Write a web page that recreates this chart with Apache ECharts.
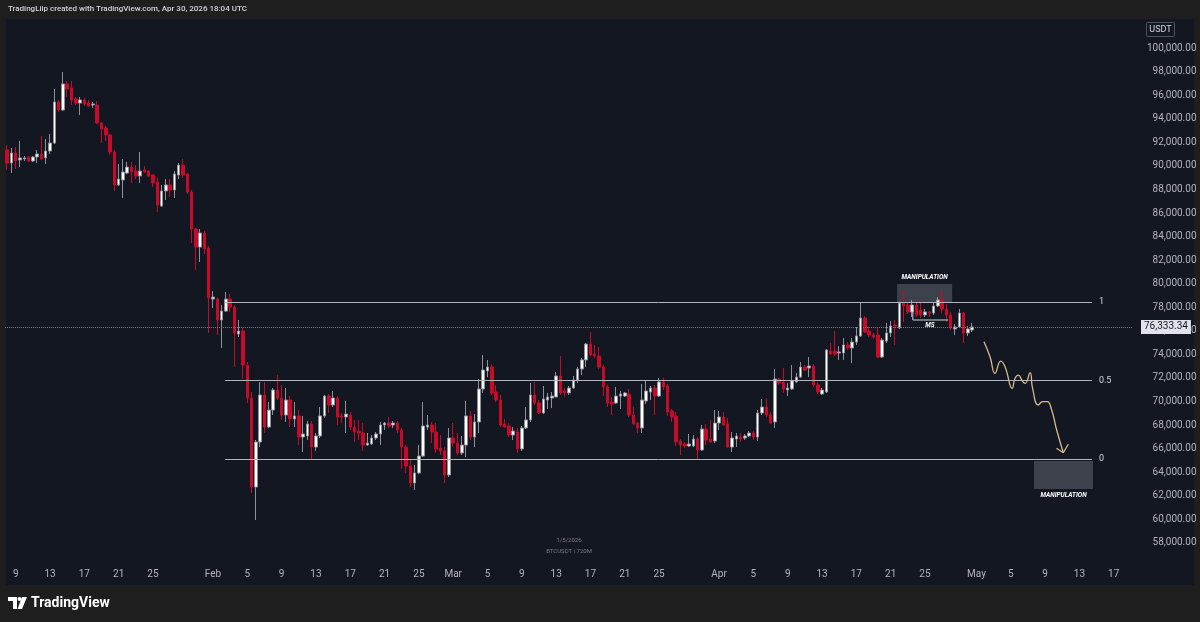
<!DOCTYPE html>
<html><head><meta charset="utf-8">
<script src="https://cdn.jsdelivr.net/npm/echarts@6/dist/echarts.min.js"></script>
<style>html,body{margin:0;padding:0;background:#1e1e1e;}#c{width:1200px;height:622px;}</style>
</head><body><div id="c"></div>
<script>
// ---- data ----
const startUTC = Date.UTC(2026, 0, 8, 0, 0);   // first 12h candle
const slotCount = 263;                           // visible 12h slots incl. future space
// [open, close, low, high]
const candles = [
[91350,90240,89650,91770],[90240,91090,89390,91520],[91090,90410,89730,91600],[90500,90670,89900,92110],
[90580,90670,90410,90840],[90750,90410,90330,90840],[90410,90750,90330,90840],[90750,91010,90240,91350],
[91010,90580,90500,92530],[90670,91260,90160,92280],[91260,91940,91010,92700],[91940,95420,91850,96520],
[95420,94740,94570,95590],[94740,96950,94650,97960],[96950,96520,95840,97200],[96610,95590,95160,97200],
[95670,95330,95160,95840],[95330,95590,94320,95840],[95590,95250,95080,95760],[95330,95080,94990,95590],
[95160,95250,94910,95420],[95160,93640,93550,95500],[93640,93130,91940,93720],[93210,92620,92110,93380],
[92620,91180,90920,92700],[91180,88380,87870,91350],[88380,88880,88290,90160],[88800,89480,87270,90580],
[89390,89900,89310,90330],[89900,89480,88550,90330],[89560,89140,88880,90070],[89140,89560,88550,91180],
[89650,89480,89390,89990],[89560,89140,89050,89650],[89220,88550,88210,89310],[88630,86680,86080,88970],
[86590,87870,86510,88380],[87870,88380,87100,88880],[88380,87950,87360,88880],[87950,89310,87270,89560],
[89220,90070,88880,90240],[90070,89220,88970,90580],[89310,87780,87610,89390],[87780,84640,83450,87950],
[84640,83110,81160,84730],[83110,84300,81840,84640],[84300,82950,82520,84470],[83030,78790,75820,83200],
[78700,78870,77940,79380],[78700,76920,75650,78870],[76920,77680,74550,78190],[77680,78700,77600,79300],
[78700,78020,77600,79130],[78020,75820,72930,78190],[75730,75990,75480,76920],[75990,73100,71910,76240],
[73100,70300,69880,73360],[70300,62750,62240,70810],[62750,66570,59950,66740],[66570,70560,66140,71660],
[70560,67840,67330,71660],[67840,69280,67760,69960],[69280,70980,68860,71150],[70980,70300,70130,72250],
[70300,68860,68440,71410],[68860,70130,68270,71150],[70130,68520,67840,70470],[68520,68780,67840,69960],
[68780,66990,66310,69280],[66990,67250,65720,68780],[67080,68100,66740,68350],[68100,66140,65130,68350],
[66140,67080,65810,67330],[67080,68780,66910,69540],[68780,70470,68610,70560],[70470,69710,69030,70640],
[69710,70300,69540,70900],[70300,68690,68010,70470],[68780,68690,68180,69030],[68690,68940,67330,70050],
[68860,67840,67590,69110],[67840,67420,66570,68440],[67500,67330,66740,68440],[67330,66310,65810,68180],
[66310,66480,66230,67330],[66400,66910,66310,67160],[66910,67250,66740,67420],[67250,68010,66310,68270],
[68010,68180,67590,68270],[68180,67930,67760,68690],[68010,68180,67760,68350],[68180,67590,67330,68350],
[67590,66140,64280,67760],[66140,64530,63940,66310],[64530,63090,62750,65040],[63090,63940,62500,64620],
[63940,65380,63850,66310],[65380,67930,65300,69960],[67840,68010,67590,68860],[68010,67420,66480,68270],
[67420,65980,65640,68180],[66060,65810,65470,67160],[65810,63770,63090,66140],[63770,66910,63600,67760],
[66910,66480,66140,68180],[66480,65640,65470,67330],[65640,66310,65470,67080],[66310,68780,65300,70050],
[68780,66990,66740,69200],[66990,68270,66140,68940],[68270,71070,67330,71910],[71070,72680,70730,73950],
[72590,72930,72080,73530],[72930,70730,70560,73190],[70810,70130,69960,71410],[70130,68010,67840,70560],
[68100,67840,67760,68520],[67930,67160,66990,68180],[67160,67500,66740,67840],[67420,65980,65640,67760],
[65980,67760,65810,67930],[67760,68440,67670,69540],[68440,70560,68270,71580],[70560,69880,69710,71660],
[69880,69030,68940,70130],[69030,70220,68940,71320],[70130,70390,69370,70730],[70300,70470,69450,70810],
[70390,72170,70390,72510],[72170,70730,70560,73870],[70900,70730,70390,71150],[70730,71150,70560,71320],
[71150,71830,71070,72170],[71830,72760,71580,72930],[72760,73530,72250,73700],[73530,74880,72930,74970],
[74880,73950,73870,75900],[74040,73870,73700,74800],[73870,72930,72760,74630],[72930,71240,70470,73100],
[71240,69880,69540,71410],[69960,69790,68860,70390],[69880,70470,69790,71240],[70470,70640,69370,70900],
[70470,70730,70390,70810],[70640,68860,68690,71070],[68860,68100,68010,69540],[68180,67760,67330,68270],
[67760,70130,67330,71490],[70050,70900,69790,71750],[70810,71150,70130,71320],[71150,70470,68860,71410],
[70470,71660,70390,72000],[71660,71240,70980,72000],[71320,69110,68780,71490],[69200,68690,68270,69370],
[68780,66570,66230,69110],[66650,66310,65470,66820],[66400,66230,66060,66570],[66230,66400,66140,67250],
[66230,66820,66140,67160],[66820,65890,65130,66990],[65890,67670,65810,68010],[67670,66740,66310,68100],
[66820,66570,66480,68440],[66650,68180,66480,69280],[68180,68690,67590,69200],[68690,68010,67930,69110],
[68100,66140,66060,68610],[66140,66910,65720,67420],[66820,67080,66140,67330],[66990,66820,66570,67330],
[66910,67080,66740,67250],[67080,67330,66990,67500],[67330,66990,66740,67500],[66990,69030,66650,69280],
[69030,69540,68860,70220],[69540,68860,68690,70300],[68860,68180,68100,69110],[68270,71910,67760,72760],
[71910,71580,71410,72000],[71660,71070,70730,72850],[70980,71150,70470,71580],[71070,71750,70980,73100],
[71660,72080,71580,72420],[72080,72930,72000,73360],[72930,72680,72590,73100],[72850,73020,72080,73780],
[73020,71410,71240,73190],[71410,70810,70640,71580],[70640,70980,70560,71150],[70810,74380,70730,74460],
[74290,74040,73950,74970],[74290,74040,73870,75990],[74120,74210,73530,74710],[74120,74800,73530,75390],
[74800,74550,74380,75050],[74550,75050,73270,75390],[75050,75560,74800,76330],[75560,77090,75480,78360],
[77090,75900,75820,77260],[75990,75650,75480,76330],[75650,75480,75310,75820],[75650,73780,73700,76330],
[73780,75220,73700,75390],[75140,75820,74970,76670],[75820,76410,75480,76840],[76500,76410,74800,76920],
[76240,78360,76160,78450],[78360,78110,76750,79470],[78190,77600,77430,78360],[77600,78190,77180,78620],
[78190,77350,77180,78450],[77770,77350,77090,78450],[77350,77600,77180,77850],[77600,77510,77180,77680],
[77510,78110,77350,78360],[78110,78620,78020,78870],[78700,77850,77510,79470],[77850,77350,76750,78280],
[77350,76240,76070,77600],[76160,76330,75650,76580],[76330,77510,76240,77850],[77510,75820,74970,77600],
[75820,76160,75560,76410],[76070,76333.34,75900,76670]
];
const lastPrice = 76333.34;
const tickLabels = [
['2026-01-09','9'],['2026-01-13','13'],['2026-01-17','17'],['2026-01-21','21'],['2026-01-25','25'],
['2026-02-01','Feb'],['2026-02-05','5'],['2026-02-09','9'],['2026-02-13','13'],['2026-02-17','17'],['2026-02-21','21'],['2026-02-25','25'],
['2026-03-01','Mar'],['2026-03-05','5'],['2026-03-09','9'],['2026-03-13','13'],['2026-03-17','17'],['2026-03-21','21'],['2026-03-25','25'],
['2026-04-01','Apr'],['2026-04-05','5'],['2026-04-09','9'],['2026-04-13','13'],['2026-04-17','17'],['2026-04-21','21'],['2026-04-25','25'],
['2026-05-01','May'],['2026-05-05','5'],['2026-05-09','9'],['2026-05-13','13'],['2026-05-17','17']
];
// Fibonacci levels (price) and their drawn time span
const fibLevels = [[78450,'1'],[71790,'0.5'],[65130,'0']];
const fibSpan = ['2026-02-02T10:00:00Z','2026-05-14T11:00:00Z'];
// Manipulation zones [startTime, endTime, topPrice, bottomPrice]
const zoneTop = ['2026-04-21T18:00:00Z','2026-04-28T04:00:00Z',79975,78360];
const zoneBottom = ['2026-05-07T17:00:00Z','2026-05-14T14:00:00Z',64960,62580];
// MS bracket (time, price)
const msBracket = [['2026-04-23T14:00:00Z',78190],['2026-04-23T14:00:00Z',76920],['2026-04-27T17:00:00Z',76920]];
const msLabel = ['2026-04-25T14:00:00Z',76450];
// projected path (time, price)
const projPath = [
['2026-05-01T21:00:00Z',75080],['2026-05-02T14:00:00Z',73810],['2026-05-03T04:00:00Z',72400],
['2026-05-03T20:00:00Z',73440],['2026-05-04T08:00:00Z',72960],['2026-05-05T04:00:00Z',71120],
['2026-05-05T12:00:00Z',71980],['2026-05-05T21:00:00Z',72250],['2026-05-06T09:30:00Z',71690],
['2026-05-06T16:00:00Z',71550],['2026-05-07T06:00:00Z',72450],['2026-05-07T13:00:00Z',71120],
['2026-05-08T05:00:00Z',69710],['2026-05-08T17:30:00Z',69990],['2026-05-09T06:00:00Z',69990],
['2026-05-09T18:30:00Z',69280],['2026-05-10T08:30:00Z',67590],['2026-05-11T03:00:00Z',65660]
];
const projHead = [['2026-05-10T08:00:00Z',66040],['2026-05-11T03:00:00Z',65660],['2026-05-11T17:00:00Z',66380]];

// ---- build ----
const H12 = 12*3600*1000;
const pad = n => (n<10?'0':'')+n;
const categories = [];
for (let i=0;i<slotCount;i++){
  const d = new Date(startUTC + i*H12);
  categories.push(d.getUTCFullYear()+'-'+pad(d.getUTCMonth()+1)+'-'+pad(d.getUTCDate())+' '+pad(d.getUTCHours())+':00');
}
const tickMap = {};
tickLabels.forEach(t => tickMap[t[0]+' 00:00'] = t[1]);
const fmtPrice = v => v.toLocaleString('en-US',{minimumFractionDigits:2,maximumFractionDigits:2});
const FONT = 'Roboto, "Liberation Sans", sans-serif';
const txt = '#b2b5be';

const chart = echarts.init(document.getElementById('c'));
const option = {
  backgroundColor: '#1e1e1e',
  animation: false,
  grid: {left: 5, top: 24.43, width: 1128, height: 542.14},
  xAxis: [{
    type: 'category', data: categories, boundaryGap: true,
    axisLine: {show: false}, axisTick: {show: false}, splitLine: {show: false},
    axisLabel: {
      interval: (idx, val) => tickMap[val] !== undefined,
      formatter: val => tickMap[val] || '',
      color: txt, fontSize: 10, fontFamily: FONT, margin: 2.5
    }
  },{
    type: 'time', show: false,
    min: startUTC - H12/2, max: startUTC + (slotCount-0.5)*H12
  }],
  yAxis: {
    type: 'value', position: 'right', min: 56000, max: 102000, interval: 2000,
    splitLine: {show: false}, axisTick: {show: false},
    axisLine: {show: false},
    axisLabel: {
      formatter: fmtPrice, color: txt, fontSize: 10, fontFamily: FONT,
      align: 'right', margin: 63.5, showMinLabel: false, showMaxLabel: false
    }
  },
  graphic: [
    {type:'rect', z:-10, shape:{x:6,y:19,width:1188,height:566}, style:{fill:'#131722'}},
    {type:'text', left: 8, top: 5, style:{text:'TradingLiip created with TradingView.com, Apr 30, 2026 18:04 UTC', fill:'#d1d4dc', font:'500 8px '+FONT}},
    {type:'rect', shape:{x:1146.5,y:22.5,width:28,height:14,r:1}, style:{fill:'none', stroke:'#50535e', lineWidth:1}},
    {type:'text', x:1160.5, y:29.5, style:{text:'USDT', fill:'#d1d4dc', font:'9px '+FONT, align:'center', verticalAlign:'middle'}},
    {type:'text', x:569, y:540, style:{text:'1/5/2026', fill:'#787b86', font:'6px '+FONT, align:'center', verticalAlign:'middle'}},
    {type:'text', x:569, y:551, style:{text:'BTCUSDT | 720M', fill:'#787b86', font:'6px '+FONT, align:'center', verticalAlign:'middle'}},
    // TradingView logo
    {type:'polygon', shape:{points:[[8,597],[17,597],[17,609],[13,609],[13,601],[8,601]]}, style:{fill:'#ffffff'}},
    {type:'circle', shape:{cx:19.5,cy:599,r:2}, style:{fill:'#ffffff'}},
    {type:'polygon', shape:{points:[[22,597],[27,597],[22,609],[17.5,609]]}, style:{fill:'#ffffff'}},
    {type:'text', x:31, y:603, style:{text:'TradingView', fill:'#ffffff', font:'bold 14px '+FONT, verticalAlign:'middle'}}
  ],
  series: [
    {
      type: 'candlestick', data: candles, barWidth: 3,
      itemStyle: {color:'#ffffff', color0:'#c80a28', borderColor:'#8e919a', borderColor0:'#c80a28', borderWidth:1},
      markLine: {
        silent: true, symbol: ['none','none'],
        data: [{yAxis: lastPrice,
          lineStyle:{type:'dotted', color:'#787b86', width:1},
          label:{show:true, position:'end', distance:8, formatter: fmtPrice(lastPrice),
            color:'#131722', backgroundColor:'#e0e3eb', padding:[2,3,2,3], fontSize:10, fontFamily:FONT}}]
      }
    },
    {
      type: 'line', xAxisIndex: 1, data: msBracket, symbol: 'none', silent: true,
      lineStyle: {color:'#d1d4dc', width:1},
      markLine: {
        silent: true, symbol: ['none','none'],
        lineStyle: {type:'solid', color:'#b2b5be', width:1},
        label: {show:true, position:'end', distance:7, color:'#d1d4dc', fontSize:9, fontFamily:FONT},
        data: fibLevels.map(f => [{coord:[fibSpan[0], f[0]]},{coord:[fibSpan[1], f[0]], label:{formatter:f[1]}}])
      },
      markArea: {
        silent: true,
        itemStyle: {color:'rgba(120,123,134,0.42)'},
        label: {show:true, formatter:'MANIPULATION', color:'#ffffff', fontSize:6.5, fontStyle:'italic', fontWeight:'bold', fontFamily:FONT},
        data: [
          [{coord:[zoneTop[0], zoneTop[2]], label:{position:'top', distance:3}},{coord:[zoneTop[1], zoneTop[3]]}],
          [{coord:[zoneBottom[0], zoneBottom[2]], label:{position:'bottom', distance:3}},{coord:[zoneBottom[1], zoneBottom[3]]}]
        ]
      },
      markPoint: {
        silent: true, symbol: 'rect', symbolSize: 1, itemStyle:{color:'rgba(0,0,0,0)'},
        label: {show:true, formatter:'MS', color:'#ffffff', fontSize:6.5, fontStyle:'italic', fontWeight:'bold', fontFamily:FONT},
        data: [{coord: msLabel}]
      }
    },
    {
      type: 'line', xAxisIndex: 1, data: projPath, symbol: 'none', smooth: 0.5, silent: true,
      lineStyle: {color:'#d6b98c', width:1.3}
    },
    {
      type: 'line', xAxisIndex: 1, data: projHead, symbol: 'none', silent: true,
      lineStyle: {color:'#d6b98c', width:1.3}
    }
  ]
};
chart.setOption(option);
</script>
</body></html>
